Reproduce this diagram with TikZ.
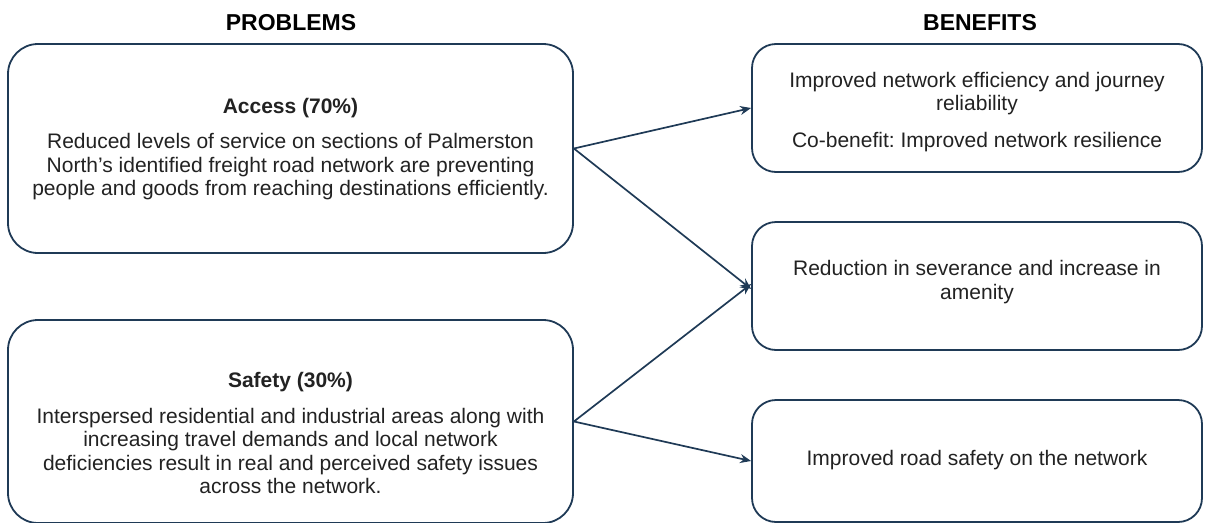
\documentclass[tikz,border=0pt]{standalone}
\usepackage{fontspec}
\setmainfont{Liberation Sans}
\usetikzlibrary{arrows.meta}
\frenchspacing
\definecolor{frame}{HTML}{1F3A56}
\definecolor{ink}{HTML}{222222}
\tikzset{
  panel/.style={draw=frame, line width=1.8pt, rounded corners=30pt, fill=white, inner sep=0pt},
  benefit/.style={draw=frame, line width=1.8pt, rounded corners=24pt, fill=white, inner sep=0pt,
    minimum width=450pt},
  body/.style={align=center, text=ink, font=\fontsize{21}{23.5}\selectfont, inner sep=0pt},
  heading/.style={font=\bfseries\fontsize{23}{27}\selectfont, text=black, inner sep=0pt},
  link/.style={draw=frame, line width=1.7pt, -{Stealth[length=11pt,width=9pt]}},
}
\begin{document}
\begin{tikzpicture}[x=1pt,y=-1pt]
  \useasboundingbox (0,0) rectangle (1206,522);

  % column headings
  \node[heading] (hprob) at (291,23) {PROBLEMS};
  \node[heading] (hben) at (980,23) {BENEFITS};

  % problem panels
  \node[panel, minimum width=565pt, minimum height=209pt] (access) at (290.5,148.5) {};
  \node[body] (accesstxt) at (290.5,149) {\textbf{Access (70\%)}\\[12pt]
    Reduced levels of service on sections of Palmerston\\
    North’s identified freight road network are preventing\\
    people and goods from reaching destinations efficiently.};

  \node[panel, minimum width=565pt, minimum height=203pt] (safety) at (290.5,421.5) {};
  \node[body] (safetytxt) at (290.5,433) {\textbf{Safety (30\%)}\\[12pt]
    Interspersed residential and industrial areas along with\\
    increasing travel demands and local network\\
    deficiencies result in real and perceived safety issues\\
    across the network.};

  % benefit panels
  \node[benefit, minimum height=128pt] (efficiency) at (977,108) {};
  \node[body] (efficiencytxt) at (977,112)
    {Improved network efficiency and journey\\ reliability\\[13pt]
     Co-benefit: Improved network resilience};
  \node[benefit, minimum height=128pt] (severance) at (977,286) {};
  \node[body] (severancetxt) at (977,282)
    {Reduction in severance and increase in\\ amenity};
  \node[benefit, minimum height=122pt] (roadsafety) at (977,461) {};
  \node[body] (roadsafetytxt) at (977,460)
    {Improved road safety on the network};

  % links from problems to benefits
  \draw[link] (access.east) -- (efficiency.west);
  \draw[link] (access.east) -- ([yshift=-3pt]severance.west);
  \draw[link] (safety.east) -- ([yshift=2pt]severance.west);
  \draw[link] (safety.east) -- (roadsafety.west);
\end{tikzpicture}
\end{document}
